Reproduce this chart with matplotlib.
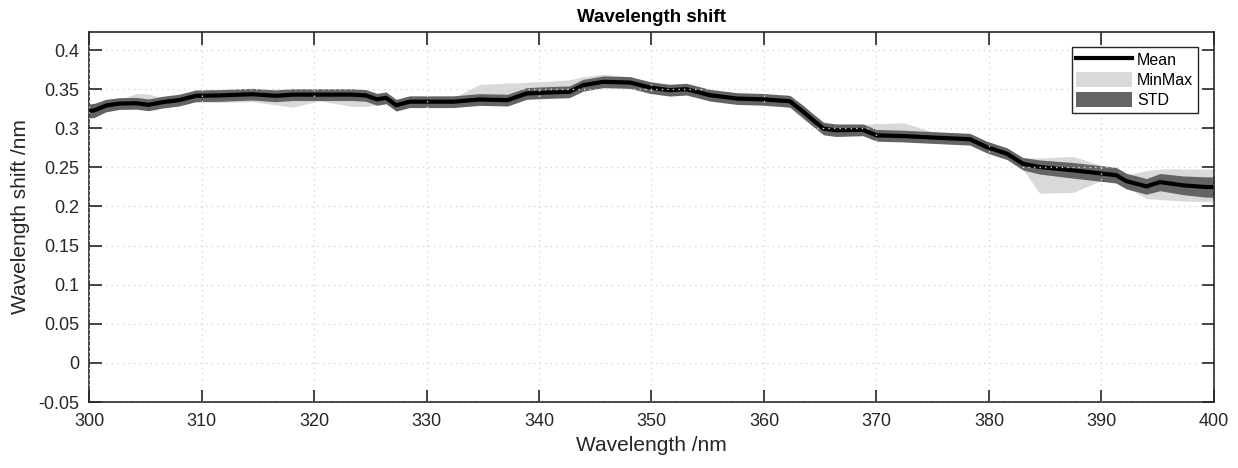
import numpy as np
import matplotlib
matplotlib.use("Agg")
import matplotlib.pyplot as plt
from matplotlib.lines import Line2D
from matplotlib.patches import Patch

plt.rcParams['font.family'] = ['Liberation Sans', 'DejaVu Sans']

# wavelength sample points (nm)
wl = [300, 300.5, 301.5, 302.7, 304.2, 305.3, 306.5, 308, 309.5, 311.6,
      314.5, 316.6, 318.1, 320.5, 323.4, 324.6, 325.6, 326.4, 327.3, 328.5,
      330, 332.4, 334.7, 337.2, 338, 338.9, 340.7, 342.7, 343.9, 345.7,
      348.1, 349.9, 351.6, 353.1, 355.2, 357.6, 359.9, 362.3, 363.5, 364.4,
      365.3, 366.4, 368.8, 370, 372.4, 375.3, 378.3, 379.8, 381.6, 383.0,
      384.5, 387.5, 390.1, 391.3, 392.2, 394.0, 395.2, 397.3, 399.3, 400]

mean_shift = [0.322, 0.323, 0.329, 0.3316, 0.332, 0.330, 0.3333, 0.336, 0.3415, 0.342,
              0.3436, 0.3415, 0.343, 0.343, 0.343, 0.342, 0.337, 0.339, 0.3295, 0.334,
              0.334, 0.334, 0.3368, 0.336, 0.340, 0.3445, 0.3457, 0.3466, 0.355, 0.3594,
              0.3585, 0.352, 0.3487, 0.350, 0.3423, 0.338, 0.337, 0.3346, 0.321, 0.310,
              0.2996, 0.2975, 0.298, 0.291, 0.290, 0.288, 0.286, 0.276, 0.2675, 0.2547,
              0.2505, 0.2462, 0.242, 0.240, 0.2325, 0.2257, 0.2312, 0.227, 0.2249, 0.2249]

std_shift = [0.009, 0.009, 0.008, 0.0075, 0.0075, 0.0075, 0.0075, 0.0075, 0.0075, 0.0075,
             0.0075, 0.0075, 0.0075, 0.0075, 0.0075, 0.0075, 0.0075, 0.0075, 0.0075, 0.0075,
             0.0075, 0.0075, 0.0075, 0.0075, 0.0075, 0.0075, 0.0075, 0.0075, 0.0075, 0.0075,
             0.0075, 0.0075, 0.0075, 0.0075, 0.0075, 0.0075, 0.0075, 0.0075, 0.008, 0.008,
             0.008, 0.008, 0.0075, 0.0075, 0.0075, 0.0075, 0.0075, 0.0075, 0.0075, 0.008,
             0.009, 0.010, 0.010, 0.010, 0.010, 0.010, 0.011, 0.012, 0.013, 0.013]

max_shift = [0.328, 0.329, 0.334, 0.337, 0.3445, 0.344, 0.339, 0.341, 0.347, 0.348,
             0.349, 0.350, 0.351, 0.350, 0.350, 0.349, 0.345, 0.345, 0.335, 0.339,
             0.339, 0.339, 0.356, 0.358, 0.358, 0.359, 0.360, 0.362, 0.366, 0.369,
             0.366, 0.358, 0.353, 0.354, 0.346, 0.342, 0.341, 0.339, 0.326, 0.315,
             0.305, 0.303, 0.305, 0.306, 0.307, 0.294, 0.291, 0.282, 0.274, 0.262,
             0.262, 0.264, 0.252, 0.248, 0.240, 0.246, 0.248, 0.248, 0.248, 0.248]

min_shift = [0.316, 0.316, 0.322, 0.325, 0.326, 0.324, 0.327, 0.330, 0.334, 0.333,
             0.334, 0.330, 0.327, 0.335, 0.328, 0.328, 0.330, 0.331, 0.324, 0.327,
             0.328, 0.328, 0.331, 0.330, 0.333, 0.338, 0.339, 0.340, 0.347, 0.353,
             0.352, 0.345, 0.343, 0.344, 0.336, 0.332, 0.331, 0.326, 0.311, 0.302,
             0.293, 0.291, 0.292, 0.285, 0.284, 0.281, 0.279, 0.270, 0.261, 0.248,
             0.217, 0.218, 0.234, 0.232, 0.225, 0.210, 0.209, 0.207, 0.206, 0.206]

wl = np.array(wl)
mean_shift = np.array(mean_shift)
std_shift = np.array(std_shift)

txt = '#262626'
fig = plt.figure(figsize=(12.38, 4.68), dpi=100)
ax = fig.add_axes([0.0719, 0.141, 0.9087, 0.7906])

ax.fill_between(wl, min_shift, max_shift, color='#d9d9d9', lw=0, zorder=1)
ax.fill_between(wl, mean_shift - std_shift, mean_shift + std_shift,
                color='#646464', lw=0, zorder=1.2)
ax.plot(wl, mean_shift, color='black', lw=3.0, zorder=1.5)

ax.set_xlim(300, 400)
ax.set_ylim(-0.05, 0.4231)
ax.set_xticks(np.arange(300, 401, 10))
ax.set_yticks(np.arange(-0.05, 0.401, 0.05))
ax.set_yticklabels(['-0.05', '0', '0.05', '0.1', '0.15', '0.2', '0.25', '0.3', '0.35', '0.4'])

ax.set_axisbelow(False)
ax.grid(True, color='#d8d8d8', linestyle=(0, (1, 3)), lw=1.0)
ax.tick_params(direction='in', length=9, width=1.2, top=True, right=True,
               labelsize=13, colors=txt)
ax.tick_params(axis='x', pad=8)
ax.tick_params(axis='y', pad=7)
for s in ax.spines.values():
    s.set_color(txt)
    s.set_linewidth(1.2)

ax.set_xlabel('Wavelength /nm', fontsize=15, color=txt, labelpad=4)
ax.set_ylabel('Wavelength shift /nm', fontsize=15, color=txt, labelpad=6)
ax.set_title('Wavelength shift', fontsize=13.5, fontweight='bold', color='black', pad=7)

handles = [Line2D([0], [0], color='black', lw=3),
           Patch(facecolor='#d9d9d9', edgecolor='none'),
           Patch(facecolor='#646464', edgecolor='none')]
leg = ax.legend(handles, ['Mean', 'MinMax', 'STD'], loc='upper right',
                fontsize=11.5, fancybox=False, framealpha=1, edgecolor=txt,
                handlelength=3.5, handleheight=1.1, handletextpad=0.3,
                borderpad=0.3, labelspacing=0.25, borderaxespad=0,
                bbox_to_anchor=(0.9858, 0.9595))
leg.get_frame().set_linewidth(1.0)

fig.savefig('out.png', dpi=100)
